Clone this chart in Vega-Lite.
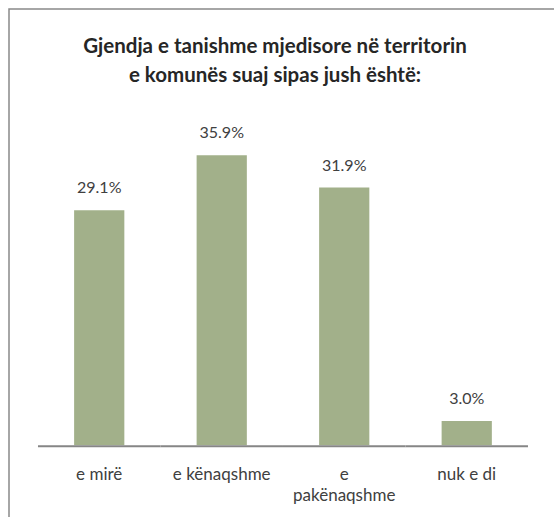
{
  "$schema": "https://vega.github.io/schema/vega-lite/v6.json",
  "width": 560,
  "height": 517,
  "autosize": {"type": "none"},
  "padding": {"left": 9, "top": 9, "right": 0, "bottom": 0},
  "background": "white",
  "title": {
    "text": ["Gjendja e tanishme mjedisore në territorin", "e komunës suaj sipas jush është:"],
    "anchor": "middle",
    "frame": "group",
    "orient": "top",
    "baseline": "top",
    "offset": -77,
    "dx": -14,
    "font": "Lato",
    "fontSize": 20.5,
    "fontWeight": "bold",
    "color": "#262626",
    "lineHeight": 29
  },
  "data": {
    "values": [
      {"cat": "e mirë", "pct": 29.1, "lbl": "29.1%"},
      {"cat": "e kënaqshme", "pct": 35.9, "lbl": "35.9%"},
      {"cat": "e pakënaqshme", "pct": 31.9, "lbl": "31.9%"},
      {"cat": "nuk e di", "pct": 3.0, "lbl": "3.0%"}
    ]
  },
  "encoding": {
    "x": {
      "field": "cat",
      "type": "nominal",
      "sort": null,
      "scale": {"paddingInner": 0, "paddingOuter": 0.2857, "align": 0.414},
      "axis": {
        "title": null,
        "orient": "bottom",
        "offset": -80.8,
        "domain": false,
        "ticks": false,
        "labelAngle": 0,
        "labelPadding": 21,
        "labelFont": "Lato",
        "labelFontSize": 17,
        "labelColor": "#404040",
        "labelLineHeight": 21,
        "labelExpr": "datum.value == 'e pakënaqshme' ? ['e', 'pakënaqshme'] : datum.value"
      }
    }
  },
  "layer": [
    {
      "mark": {"type": "bar", "width": {"band": 0.41}, "color": "#a2b08a"},
      "encoding": {
        "y": {
          "field": "pct",
          "type": "quantitative",
          "scale": {"domain": [-10, 54], "nice": false, "zero": false},
          "axis": null
        }
      }
    },
    {
      "mark": {"type": "bar", "width": {"band": 1}, "color": "#868686"},
      "encoding": {
        "y": {"datum": 0, "type": "quantitative"},
        "y2": {"datum": -0.25}
      }
    },
    {
      "mark": {"type": "text", "dy": -17, "baseline": "alphabetic", "font": "Lato", "fontSize": 16, "color": "#404040"},
      "encoding": {
        "y": {"field": "pct", "type": "quantitative"},
        "text": {"field": "lbl", "type": "nominal"}
      }
    }
  ],
  "config": {
    "view": {"stroke": "#898989", "strokeWidth": 1.5}
  }
}
